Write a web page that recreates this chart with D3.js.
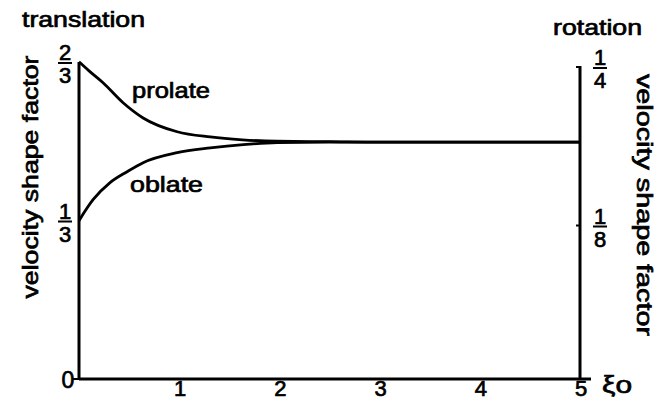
<!DOCTYPE html>
<html>
<head>
<meta charset="utf-8">
<script src="https://cdn.jsdelivr.net/npm/d3@7/dist/d3.min.js"></script>
<style>
  body { margin:0; background:#fff; }
  text { font-family:"Liberation Sans", Arial, sans-serif; fill:#000; stroke:#000; stroke-width:0.7; }
</style>
</head>
<body>
<div id="chart"></div>
<script>
// curves (xi_o, velocity shape factor on the translation scale)
let prolateX=[0,0.1,0.24,0.44,0.64,0.98,1.31,1.63,1.97,2.5,3,4,5];
let prolateY=[0.667,0.648,0.623,0.581,0.549,0.520,0.509,0.503,0.500,0.499,0.498,0.498,0.498];
let oblateX=[0,0.14,0.31,0.48,0.64,0.98,1.31,1.64,1.98,2.5,3,4,5];
let oblateY=[0.333,0.377,0.413,0.436,0.455,0.476,0.486,0.493,0.497,0.498,0.498,0.498,0.498];

let xTicks=[1,2,3,4,5];
let leftTicks=[{v:2/3,num:"2",den:"3"},{v:1/3,num:"1",den:"3"}];
let rightTicks=[{v:1/4,num:"1",den:"4"},{v:1/8,num:"1",den:"8"}];

const W=661,H=405;
let svg=d3.select("#chart").append("svg").attr("width",W).attr("height",H);

let x=d3.scaleLinear().domain([0,5]).range([79,580]);
let yL=d3.scaleLinear().domain([0,2/3]).range([379,62]);
let yR=d3.scaleLinear().domain([0,1/4]).range([379,62]);

// axes lines
svg.append("line").attr("x1",x(0)).attr("x2",x(5)+11).attr("y1",yL(0)).attr("y2",yL(0))
  .attr("stroke","#000").attr("stroke-width",3);
svg.append("line").attr("x1",x(0)).attr("x2",x(0)).attr("y1",yL(0)+1).attr("y2",yL(2/3))
  .attr("stroke","#000").attr("stroke-width",3);
svg.append("line").attr("x1",x(5)).attr("x2",x(5)).attr("y1",yR(0)+1).attr("y2",yR(1/4)+4)
  .attr("stroke","#000").attr("stroke-width",3);
// small ticks
svg.append("line").attr("x1",x(0)-6).attr("x2",x(0)).attr("y1",yL(0)).attr("y2",yL(0))
  .attr("stroke","#000").attr("stroke-width",2);
svg.selectAll(".rt").data(rightTicks).enter().append("line")
  .attr("x1",x(5)-4).attr("x2",x(5)).attr("y1",d=>yR(d.v)+5).attr("y2",d=>yR(d.v)+5)
  .attr("stroke","#000").attr("stroke-width",2);

// x tick labels
svg.selectAll(".xt").data(xTicks).enter().append("text")
  .attr("x",d=>x(d)+1).attr("y",396).attr("text-anchor","middle")
  .attr("font-size",22).text(d=>d);
svg.append("text").attr("x",68).attr("y",388).attr("text-anchor","middle")
  .attr("font-size",23).text("0");
svg.append("text").attr("x",602).attr("y",393).attr("font-size",24)
  .attr("textLength",30).attr("lengthAdjust","spacingAndGlyphs").text("\u03BEo");

// fraction labels
function fractions(ticks,scale,cx,dy,cls){
  let g=svg.selectAll("."+cls).data(ticks).enter().append("g")
    .attr("transform",d=>"translate("+cx+","+(scale(d.v)+dy)+")");
  g.append("text").attr("y",-2).attr("text-anchor","middle").attr("font-size",22)
    .text(d=>d.num);
  g.append("line").attr("x1",-7).attr("x2",7).attr("y1",1).attr("y2",1)
    .attr("stroke","#000").attr("stroke-width",2);
  g.append("text").attr("y",21).attr("text-anchor","middle").attr("font-size",22)
    .text(d=>d.den);
}
fractions(leftTicks,yL,65,0,"lf");
fractions(rightTicks,yR,600,5,"rf");

// curves
let line=d3.line().x(d=>x(d[0])).y(d=>yL(d[1])).curve(d3.curveMonotoneX);
svg.append("path").datum(d3.zip(prolateX,prolateY)).attr("d",line)
  .attr("fill","none").attr("stroke","#000").attr("stroke-width",2.8);
svg.append("path").datum(d3.zip(oblateX,oblateY)).attr("d",line)
  .attr("fill","none").attr("stroke","#000").attr("stroke-width",2.8);

// labels
function label(t,px,py,len,rot){
  let s=svg.append("text").attr("font-size",22)
    .attr("textLength",len).attr("lengthAdjust","spacingAndGlyphs").text(t);
  if(rot){ s.attr("text-anchor","middle").attr("transform","translate("+px+","+py+") rotate("+rot+")"); }
  else { s.attr("x",px).attr("y",py); }
}
label("translation",22,27,123);
label("rotation",553,35,89);
label("prolate",132,98,78);
label("oblate",130,192,73);
label("velocity shape factor",38,177,243,-90);
label("velocity shape factor",637,205,262,90);
</script>
</body>
</html>
